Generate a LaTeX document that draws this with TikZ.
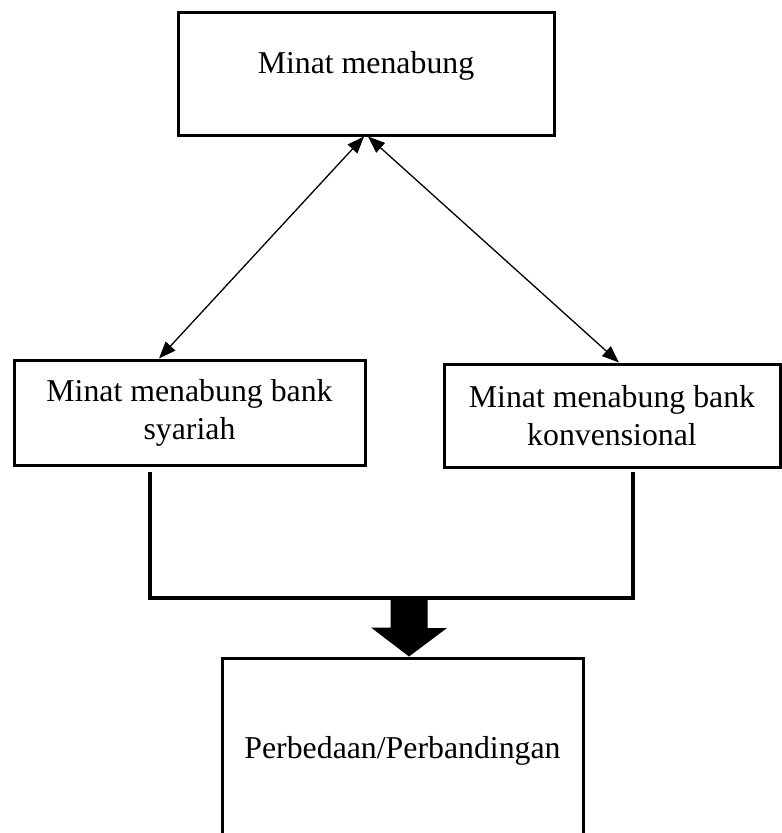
\documentclass[tikz,border=0pt]{standalone}
\usepackage{fontspec}
\setmainfont{Liberation Serif}
\usetikzlibrary{arrows.meta, positioning, calc}

\begin{document}
\begin{tikzpicture}[x=1pt, y=-1pt,
  txt/.style={inner sep=0pt, align=center, font=\fontsize{31.8}{38}\selectfont},
  box/.style={txt, draw, line width=3pt},
  link/.style={line width=1.3pt, {Triangle[length=17pt,width=13pt]}-{Triangle[length=17pt,width=13pt]}},
  joinline/.style={line width=3.8pt}]
% Frame
\clip (0,0) rectangle (782,833);
% Top box
\node[box, minimum width=376pt, minimum height=123pt] (minat) at (366,73.5) {};
\node[txt] (minatlbl) at ([yshift=8pt]minat.center) {Minat menabung};
% Middle boxes
\node[box, minimum width=351pt, minimum height=105pt] (syariah) at (189.5,412.5)
  {Minat menabung bank\\syariah};
\node[box, minimum width=336pt, minimum height=103pt] (konven) at (612,415.5)
  {Minat menabung bank\\konvensional};
% Bottom box (runs off the page)
\node[box, minimum width=361pt, minimum height=242pt] (hasil) at (402.5,779) {};
\node[txt] (hasillbl) at ([yshift=28.5pt]hasil.center) {Perbedaan/Perbandingan};
% Two-way arrows
\draw[link] ([xshift=-2pt]minat.south) -- ([xshift=-30.5pt]syariah.north);
\draw[link] ([xshift=2pt]minat.south) -- ([xshift=7pt]konven.north);
% Joining lines
\coordinate (merge) at (409,598);
\draw[joinline] ([shift={(-39.5,5)}]syariah.south) |- (merge)
  -| ([shift={(21,3)}]konven.south);
% Block arrow
\fill ([xshift=-18.5pt]merge) -- ([xshift=18.5pt]merge) -- ++(0,30) -- ++(19.5,0)
  -- ([xshift=6.5pt]hasil.north) -- ++(-38,-29) -- ++(19.5,0) -- cycle;
\end{tikzpicture}
\end{document}
